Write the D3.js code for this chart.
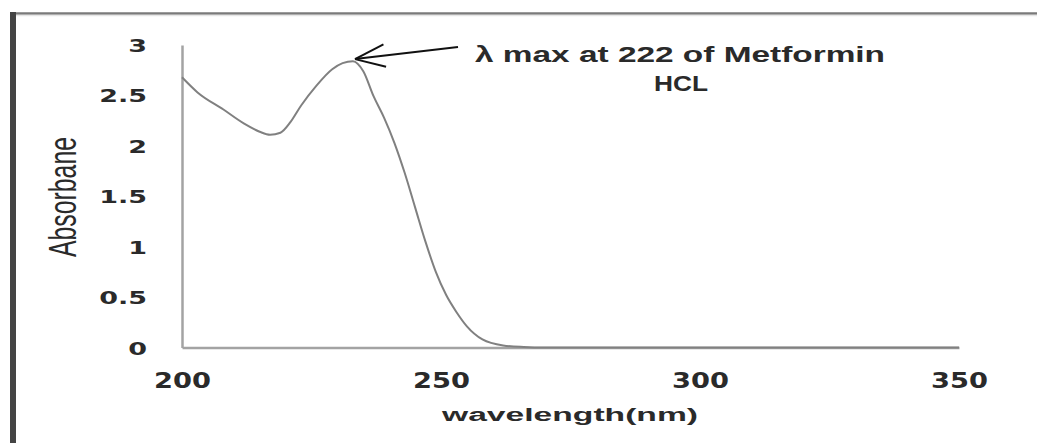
<!DOCTYPE html>
<html>
<head>
<meta charset="utf-8">
<script src="https://cdn.jsdelivr.net/npm/d3@7"></script>
<style>
  body { margin: 0; background: #fff; }
  svg { display: block; }
</style>
</head>
<body>
<svg id="chart"></svg>
<script>
// dati
const wavelengths = [200, 203, 208, 212, 215, 217, 219, 221, 223, 226, 229, 231, 233, 235, 237, 239, 241, 243, 245, 247, 249, 251, 253, 255, 258, 262, 266, 270, 280, 300, 320, 350];
const absorbance  = [2.68, 2.53, 2.36, 2.22, 2.14, 2.11, 2.13, 2.24, 2.40, 2.60, 2.76, 2.82, 2.84, 2.74, 2.49, 2.28, 2.03, 1.73, 1.39, 1.05, 0.75, 0.52, 0.35, 0.21, 0.08, 0.02, 0.005, 0, 0, 0, 0, 0];
const xTicks = [200, 250, 300, 350];
const yTicks = [0, 0.5, 1, 1.5, 2, 2.5, 3];
const peak = { wavelength: 233.4, value: 2.86 };
const annotationLines = ["\u03bb max at 222 of Metformin", "HCL"];

const width = 1037, height = 443;
const svg = d3.select("#chart").attr("width", width).attr("height", height);

const x = d3.scaleLinear().domain([200, 350]).range([182, 959]);
const y = d3.scaleLinear().domain([0, 3]).range([347.5, 45]);

// cornice esterna
svg.append("line")
  .attr("x1", 10).attr("x2", width).attr("y1", 13.5).attr("y2", 13.5)
  .attr("stroke", "#7a7a7a").attr("stroke-width", 2.5);
svg.append("line")
  .attr("x1", 10).attr("x2", width).attr("y1", 15.5).attr("y2", 15.5)
  .attr("stroke", "#e6e6e6").attr("stroke-width", 1.5);
svg.append("rect")
  .attr("x", 10).attr("y", 12).attr("width", 6).attr("height", height - 12)
  .attr("fill", "#444");

// assi
const xAxis = svg.append("g")
  .attr("transform", `translate(0,${y(0)})`)
  .call(d3.axisBottom(x).tickValues(xTicks).tickSize(0).tickFormat(d3.format("d")));
const yAxis = svg.append("g")
  .attr("transform", `translate(${x(200)},0)`)
  .call(d3.axisLeft(y).tickValues(yTicks).tickSize(0).tickFormat(d => d));

[xAxis, yAxis].forEach(g => {
  g.select(".domain").attr("stroke", "#a3a3a3").attr("stroke-width", 2.5);
});

xAxis.selectAll("text")
  .attr("x", null).attr("y", null).attr("dy", null)
  .attr("transform", "translate(0,40) scale(1.24,1)")
  .attr("text-anchor", "middle")
  .attr("font-family", "DejaVu Sans")
  .attr("font-weight", "bold")
  .attr("font-size", 22)
  .attr("fill", "#2a2a2a");

yAxis.selectAll("text")
  .attr("x", null).attr("dy", null)
  .attr("transform", "translate(-35,6.5) scale(1.5,1)")
  .attr("text-anchor", "end")
  .attr("font-family", "DejaVu Sans")
  .attr("font-weight", "bold")
  .attr("font-size", 18)
  .attr("fill", "#2a2a2a");

// titoli degli assi
svg.append("text")
  .attr("x", 570).attr("y", 421)
  .attr("text-anchor", "middle")
  .attr("font-family", "Liberation Sans")
  .attr("font-weight", "bold")
  .attr("font-size", 18)
  .attr("textLength", 256)
  .attr("lengthAdjust", "spacingAndGlyphs")
  .attr("fill", "#2a2a2a")
  .text("wavelength(nm)");

svg.append("text")
  .attr("transform", "translate(76,197) scale(1.5,1) rotate(-90)")
  .attr("text-anchor", "middle")
  .attr("font-family", "Liberation Sans Narrow, Liberation Sans")
  .attr("font-size", 26)
  .attr("textLength", 120)
  .attr("lengthAdjust", "spacingAndGlyphs")
  .attr("fill", "#2a2a2a")
  .text("Absorbane");

// curva di assorbimento
const series = wavelengths.map((w, i) => ({ w, a: absorbance[i] }));
const line = d3.line()
  .x(d => x(d.w))
  .y(d => y(d.a))
  .curve(d3.curveMonotoneX);

svg.append("path")
  .datum(series)
  .attr("fill", "none")
  .attr("stroke", "#808080")
  .attr("stroke-width", 2)
  .attr("d", line);

// annotazione con freccia
const tip = [x(peak.wavelength), y(peak.value)];
const tail = [458, 47];
const ang = Math.atan2(tail[1] - tip[1], tail[0] - tip[0]);
const ann = svg.append("g").attr("stroke", "#111").attr("stroke-width", 2);
ann.append("line")
  .attr("x1", tip[0]).attr("y1", tip[1]).attr("x2", tail[0]).attr("y2", tail[1]);
[-0.36, 0.36].forEach(da => {
  ann.append("line")
    .attr("x1", tip[0]).attr("y1", tip[1])
    .attr("x2", tip[0] + 32 * Math.cos(ang + da))
    .attr("y2", tip[1] + 32 * Math.sin(ang + da));
});

svg.append("text")
  .attr("x", 680).attr("y", 62)
  .attr("text-anchor", "middle")
  .attr("font-family", "Liberation Sans")
  .attr("font-weight", "bold")
  .attr("font-size", 22)
  .attr("textLength", 410)
  .attr("lengthAdjust", "spacingAndGlyphs")
  .attr("fill", "#2a2a2a")
  .text(annotationLines[0]);

svg.append("text")
  .attr("x", 681).attr("y", 91)
  .attr("text-anchor", "middle")
  .attr("font-family", "Liberation Sans")
  .attr("font-weight", "bold")
  .attr("font-size", 22)
  .attr("textLength", 54)
  .attr("lengthAdjust", "spacingAndGlyphs")
  .attr("fill", "#2a2a2a")
  .text(annotationLines[1]);
</script>
</body>
</html>
